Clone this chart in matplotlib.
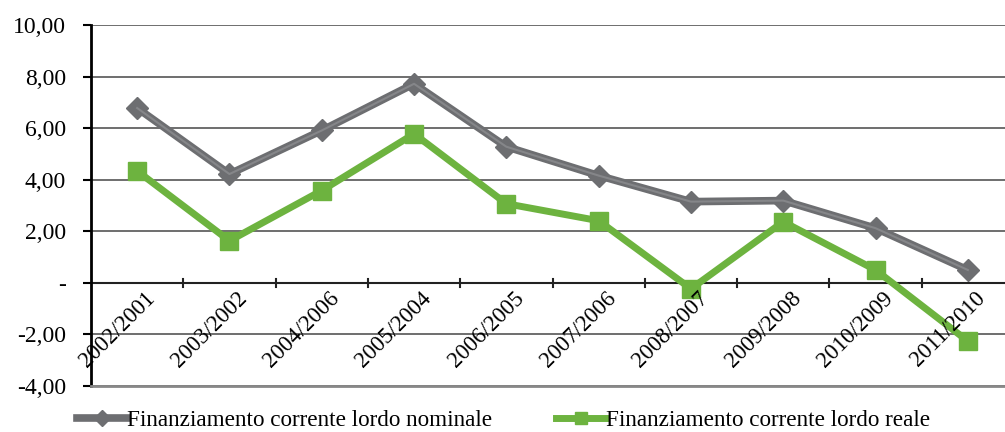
import matplotlib
matplotlib.use("Agg")
import matplotlib.pyplot as plt
import matplotlib.transforms as mtransforms
from matplotlib.ticker import FuncFormatter

categories = ["2002/2001", "2003/2002", "2004/2006", "2005/2004", "2006/2005",
              "2007/2006", "2008/2007", "2009/2008", "2010/2009", "2011/2010"]
nominale = [6.78, 4.22, 5.91, 7.72, 5.28, 4.16, 3.15, 3.19, 2.12, 0.50]
reale = [4.34, 1.63, 3.58, 5.78, 3.07, 2.41, -0.23, 2.37, 0.50, -2.26]

plt.rcParams['font.family'] = ['Liberation Serif', 'DejaVu Serif']

fig = plt.figure(figsize=(10.05, 4.32), dpi=100)
ax = fig.add_axes([91/1005, 1 - 386/432, 923/1005, 361/432])

x = list(range(len(categories)))
ax.plot(x, nominale, color='#6d6e71', lw=5.5, marker='D', markersize=11,
        label='Finanziamento corrente lordo nominale')
ax.plot(x, nominale, color='#858689', lw=1.5, label='_nolegend_')
ax.plot(x, reale, color='#6db33f', lw=5, marker='s', markersize=13,
        label='Finanziamento corrente lordo reale')

ax.set_xlim(-0.5, len(categories) - 0.5)
ax.set_ylim(-4, 10)
ax.set_yticks([-4, -2, 0, 2, 4, 6, 8, 10])

def fmt(v, pos):
    if abs(v) < 1e-9:
        return '-'
    return ('%.2f' % v).replace('.', ',')
ax.yaxis.set_major_formatter(FuncFormatter(fmt))
ax.tick_params(axis='y', labelsize=17, length=6, width=1.5, color='black', pad=12)

ax.grid(axis='y', color='#555555', lw=1.2)
ax.set_axisbelow(True)
for s in ['top', 'right']:
    ax.spines[s].set_visible(False)
ax.spines['left'].set_linewidth(2)
ax.spines['bottom'].set_color('#888888')
ax.spines['bottom'].set_linewidth(2)

# x axis at zero
ax.axhline(0, color='#222222', lw=1.5, zorder=1)
for b in range(1, len(categories)):
    ax.plot([b - 0.5, b - 0.5], [-0.15, 0.15], color='#222222', lw=1.5, zorder=1)
ax.set_xticks([])
offset = mtransforms.ScaledTranslation(7/100, -5/100, fig.dpi_scale_trans)
for i, c in enumerate(categories):
    ax.text(i, 0, c, rotation=45, ha='right', va='top', rotation_mode='anchor',
            fontsize=16.5, transform=ax.transData + offset)

fig.legend(loc='lower left', bbox_to_anchor=(56/1005, -0.047), ncol=2, frameon=False,
           fontsize=16.7, handlelength=2.15, handletextpad=0.0, columnspacing=2.75,
           markerscale=0.7)

fig.savefig('out.png', dpi=100)
